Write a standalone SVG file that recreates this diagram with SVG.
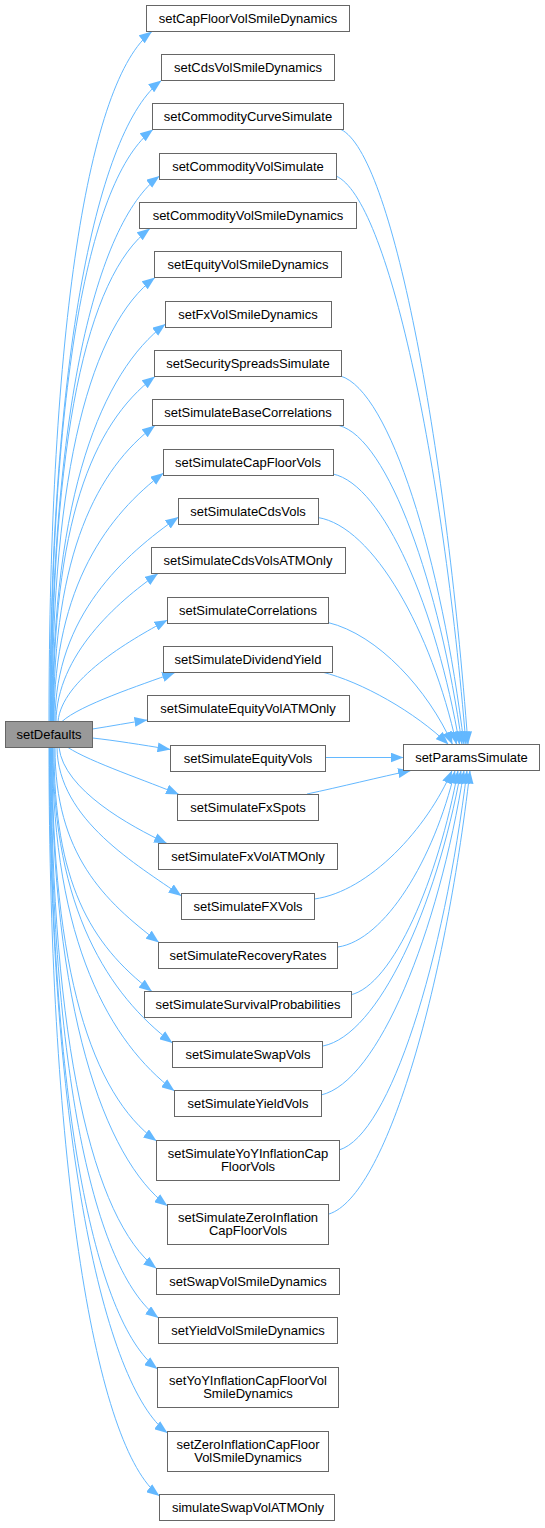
<svg xmlns="http://www.w3.org/2000/svg" width="545" height="1528" viewBox="0 0 545 1528">
<style>
.n rect{fill:#ffffff;stroke:#666666;stroke-width:1}
.n text,.r text{font-family:"Liberation Sans",Arial,Helvetica,sans-serif;font-size:13px;fill:#000000;text-anchor:middle}
.r rect{fill:#999999;stroke:#666666;stroke-width:1}
.e path{fill:none;stroke:#63b8ff;stroke-width:1;marker-end:url(#ah)}
</style>
<defs>
<marker id="ah" viewBox="0 0 13 10" refX="13" refY="5" markerWidth="13" markerHeight="10" markerUnits="userSpaceOnUse" orient="auto">
<path d="M0,0 L13,5 L0,10 Z" fill="#63b8ff"/>
</marker>
</defs>
<rect width="545" height="1528" fill="#ffffff"/>
<g id="edges" class="e">
<path d="M49,721.5 C49,328.2 88.1,79.6 152,31.5"/>
<path d="M50,721.5 C50,356 97.6,128.6 161.5,80.5"/>
<path d="M50.5,721.5 C50.5,384 89.1,177.6 153,129.5"/>
<path d="M51,721.5 C51,410.6 95.6,224.1 159.5,176"/>
<path d="M51.5,721.5 C51.5,440.5 86.1,276.6 150,228.5"/>
<path d="M52,721.5 C52,468.4 91.1,325.6 155,277.5"/>
<path d="M52.5,721.5 C52.5,494.9 101.6,372.1 165.5,324"/>
<path d="M53,721.5 C53,524.9 91.1,424.6 155,376.5"/>
<path d="M53.5,721.5 C53.5,552.8 97.5,468.8 155,425.5"/>
<path d="M54,721.5 C54,584.8 109.2,513.9 163.5,473"/>
<path d="M55,721.5 C55,615.2 125.3,554.3 178.5,517"/>
<path d="M56,721.5 C57,654.9 117,602.2 158,573.5"/>
<path d="M58,721.5 C62,680 127.8,641.1 167.5,620"/>
<path d="M62,721.5 C80,705 139.3,685.5 175,672.5"/>
<path d="M92.5,729 C112,726 130,722.5 147.5,720"/>
<path d="M92.5,738 C115,740.5 140,744.5 170.5,749.5"/>
<path d="M68,747.5 C90,762 150,782 179,794.5"/>
<path d="M59,747.5 C64,790 130,826 167,843.5"/>
<path d="M57,747.5 C58,820 137.8,865 181.5,896"/>
<path d="M55,747.5 C55,855 104.7,901 159,942.5"/>
<path d="M54,747.5 C54,882 90,944 152,991.5"/>
<path d="M53,747.5 C53,910 109,995 172.5,1043"/>
<path d="M52.5,747.5 C52.5,943 111,1043 174.5,1091"/>
<path d="M52,747.5 C52,972 92,1094 156.5,1141"/>
<path d="M51.5,747.5 C51.5,1009 104,1158 167.5,1206"/>
<path d="M51,747.5 C51,1044 93,1220 156.5,1268.5"/>
<path d="M50.5,747.5 C50.5,1072 94,1270 158.5,1318"/>
<path d="M50,747.5 C50,1102 94,1321 157.5,1369"/>
<path d="M49.5,747.5 C49.5,1138 104,1385 167.5,1433"/>
<path d="M49,747.5 C49,1174 96,1448 159.5,1496"/>
<path d="M341,129.5 C391.8,154.1 445.1,437 468,744.5"/>
<path d="M336,176 C388,198.7 442.6,460.3 466,744.5"/>
<path d="M340.5,376 C389.9,390.7 441.8,560.3 464,744.5"/>
<path d="M339,425.5 C388.2,438.3 439.9,585 462,744.5"/>
<path d="M333,474 C383.6,484.8 436.7,609.3 459.5,744.5"/>
<path d="M318,517.5 C373.4,526.6 431.6,631 456.5,744.5"/>
<path d="M328,622.5 C378,634.7 428,689.6 452.5,744.5"/>
<path d="M322,672 C362,682 415,712 448.5,744.5"/>
<path d="M325.5,757.5 L403.5,757.5"/>
<path d="M307,794 C340,787 380,777 411,770.5"/>
<path d="M314.5,899 C369.5,891.3 427.3,828.3 452,770.5"/>
<path d="M338,947 C384.8,940 433.9,860 455,770.5"/>
<path d="M350,995 C393.2,986 438.6,878 458,770.5"/>
<path d="M323,1046 C378.2,1035 436.2,908 461,770.5"/>
<path d="M321,1095 C378.2,1082 438.3,933 464,770.5"/>
<path d="M339,1150 C390.2,1135 444,960 467,770.5"/>
<path d="M329,1214 C385.4,1196 444.6,992 470,770.5"/>
</g>
<g id="setDefaults" class="r"><rect x="5.5" y="721.5" width="87" height="26"/><text x="49" y="739">setDefaults</text></g>
<g id="setParamsSimulate" class="n"><rect x="403.5" y="744.5" width="136" height="26"/><text x="471.5" y="762">setParamsSimulate</text></g>
<g id="setCapFloorVolSmileDynamics" class="n"><rect x="146.5" y="5.5" width="203" height="26"/><text x="248" y="23">setCapFloorVolSmileDynamics</text></g>
<g id="setCdsVolSmileDynamics" class="n"><rect x="161.5" y="54.5" width="173" height="26"/><text x="248" y="72">setCdsVolSmileDynamics</text></g>
<g id="setCommodityCurveSimulate" class="n"><rect x="152.5" y="103.5" width="191" height="26"/><text x="248" y="121">setCommodityCurveSimulate</text></g>
<g id="setCommodityVolSimulate" class="n"><rect x="159.5" y="153.5" width="177" height="26"/><text x="248" y="171">setCommodityVolSimulate</text></g>
<g id="setCommodityVolSmileDynamics" class="n"><rect x="139.5" y="202.5" width="217" height="26"/><text x="248" y="220">setCommodityVolSmileDynamics</text></g>
<g id="setEquityVolSmileDynamics" class="n"><rect x="154.5" y="251.5" width="187" height="26"/><text x="248" y="269">setEquityVolSmileDynamics</text></g>
<g id="setFxVolSmileDynamics" class="n"><rect x="165.5" y="301.5" width="166" height="26"/><text x="248" y="319">setFxVolSmileDynamics</text></g>
<g id="setSecuritySpreadsSimulate" class="n"><rect x="154.5" y="350.5" width="187" height="26"/><text x="248" y="368">setSecuritySpreadsSimulate</text></g>
<g id="setSimulateBaseCorrelations" class="n"><rect x="152.5" y="399.5" width="191" height="26"/><text x="248" y="417">setSimulateBaseCorrelations</text></g>
<g id="setSimulateCapFloorVols" class="n"><rect x="163.5" y="449.5" width="170" height="26"/><text x="248" y="467">setSimulateCapFloorVols</text></g>
<g id="setSimulateCdsVols" class="n"><rect x="178.5" y="498.5" width="140" height="26"/><text x="248" y="516">setSimulateCdsVols</text></g>
<g id="setSimulateCdsVolsATMOnly" class="n"><rect x="151.5" y="547.5" width="194" height="26"/><text x="248" y="565">setSimulateCdsVolsATMOnly</text></g>
<g id="setSimulateCorrelations" class="n"><rect x="167.5" y="597.5" width="161" height="26"/><text x="248" y="615">setSimulateCorrelations</text></g>
<g id="setSimulateDividendYield" class="n"><rect x="163.5" y="646.5" width="169" height="26"/><text x="248" y="664">setSimulateDividendYield</text></g>
<g id="setSimulateEquityVolATMOnly" class="n"><rect x="147.5" y="695.5" width="202" height="26"/><text x="248" y="713">setSimulateEquityVolATMOnly</text></g>
<g id="setSimulateEquityVols" class="n"><rect x="170.5" y="745.5" width="155" height="26"/><text x="248" y="763">setSimulateEquityVols</text></g>
<g id="setSimulateFxSpots" class="n"><rect x="177.5" y="794.5" width="141" height="26"/><text x="248" y="812">setSimulateFxSpots</text></g>
<g id="setSimulateFxVolATMOnly" class="n"><rect x="158.5" y="843.5" width="179" height="26"/><text x="248" y="861">setSimulateFxVolATMOnly</text></g>
<g id="setSimulateFXVols" class="n"><rect x="181.5" y="893.5" width="133" height="26"/><text x="248" y="911">setSimulateFXVols</text></g>
<g id="setSimulateRecoveryRates" class="n"><rect x="158.5" y="942.5" width="179" height="26"/><text x="248" y="960">setSimulateRecoveryRates</text></g>
<g id="setSimulateSurvivalProbabilities" class="n"><rect x="144.5" y="991.5" width="207" height="26"/><text x="248" y="1009">setSimulateSurvivalProbabilities</text></g>
<g id="setSimulateSwapVols" class="n"><rect x="172.5" y="1041.5" width="150" height="26"/><text x="248" y="1059">setSimulateSwapVols</text></g>
<g id="setSimulateYieldVols" class="n"><rect x="174.5" y="1090.5" width="147" height="26"/><text x="248" y="1108">setSimulateYieldVols</text></g>
<g id="setSimulateYoYInflationCapFloorVols" class="n"><rect x="156.5" y="1140.5" width="183" height="40"/><text x="248" y="1158">setSimulateYoYInflationCap</text><text x="248" y="1171">FloorVols</text></g>
<g id="setSimulateZeroInflationCapFloorVols" class="n"><rect x="167.5" y="1204.5" width="161" height="40"/><text x="248" y="1222">setSimulateZeroInflation</text><text x="248" y="1235">CapFloorVols</text></g>
<g id="setSwapVolSmileDynamics" class="n"><rect x="156.5" y="1268.5" width="183" height="26"/><text x="248" y="1286">setSwapVolSmileDynamics</text></g>
<g id="setYieldVolSmileDynamics" class="n"><rect x="158.5" y="1317.5" width="179" height="26"/><text x="248" y="1335">setYieldVolSmileDynamics</text></g>
<g id="setYoYInflationCapFloorVolSmileDynamics" class="n"><rect x="157.5" y="1367.5" width="181" height="40"/><text x="248" y="1385">setYoYInflationCapFloorVol</text><text x="248" y="1398">SmileDynamics</text></g>
<g id="setZeroInflationCapFloorVolSmileDynamics" class="n"><rect x="167.5" y="1431.5" width="161" height="40"/><text x="248" y="1449">setZeroInflationCapFloor</text><text x="248" y="1462">VolSmileDynamics</text></g>
<g id="simulateSwapVolATMOnly" class="n"><rect x="159.5" y="1494.5" width="175" height="26"/><text x="248" y="1512">simulateSwapVolATMOnly</text></g>
</svg>
